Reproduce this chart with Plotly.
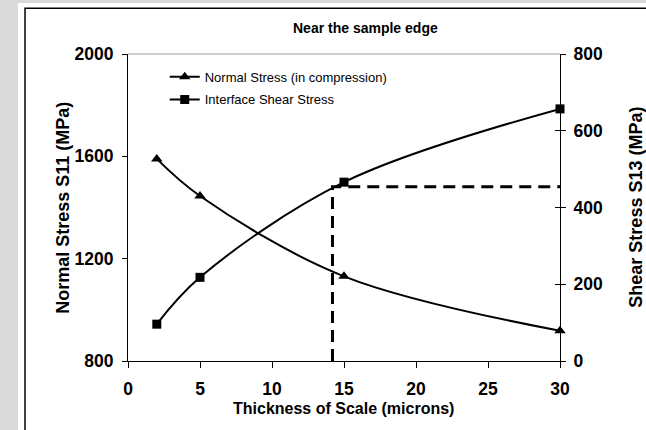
import plotly.graph_objects as go

# Scale thickness (microns) at which the stresses were computed
thickness = [2, 5, 15, 30]
# Normal stress S11 in compression (MPa), left axis
normal_stress = [1590, 1445, 1131, 918]
# Interface shear stress S13 (MPa), right axis
shear_stress = [96, 218, 466, 657]

guide_x = [14.2, 14.2, 30]
guide_y = [0, 454, 454]

x_ticks = [0, 5, 10, 15, 20, 25, 30]
left_ticks = [800, 1200, 1600, 2000]
right_ticks = [0, 200, 400, 600, 800]

FONT = "Liberation Sans, Arial, sans-serif"

fig = go.Figure()

fig.add_trace(go.Scatter(
    x=thickness, y=normal_stress, name="Normal Stress (in compression)",
    mode="lines+markers", line=dict(color="black", width=2, shape="spline"),
    marker=dict(symbol="triangle-up", size=10, color="black"),
    cliponaxis=False, legend="legend",
))
fig.add_trace(go.Scatter(
    x=thickness, y=shear_stress, name="Interface Shear Stress",
    mode="lines+markers", line=dict(color="black", width=2, shape="spline"),
    marker=dict(symbol="square", size=9, color="black"),
    cliponaxis=False, yaxis="y2", legend="legend2",
))
fig.add_trace(go.Scatter(
    x=guide_x, y=guide_y, mode="lines", showlegend=False,
    line=dict(color="black", width=3, dash="12px,7px"),
    cliponaxis=False, yaxis="y2",
))
# empty trace so the inner tick marks of the right axis get drawn
fig.add_trace(go.Scatter(x=[], y=[], yaxis="y3", showlegend=False))

tick_font = dict(family=FONT, size=17.5, color="black", weight="bold")

fig.update_layout(
    width=646, height=430,
    margin=dict(l=128, r=86, t=54, b=69),
    paper_bgcolor="#dadada",
    plot_bgcolor="rgba(0,0,0,0)",
    font=dict(family=FONT, color="black"),
    xaxis=dict(
        range=[0, 30], tickvals=x_ticks, showgrid=False, zeroline=False,
        showline=True, linecolor="black", linewidth=1,
        ticks="outside", ticklen=6, tickcolor="black",
        tickfont=tick_font, ticklabelstandoff=6,
    ),
    yaxis=dict(
        range=[800, 2000], tickvals=left_ticks, showgrid=False, zeroline=False,
        showline=True, linecolor="black", linewidth=1,
        ticks="outside", ticklen=5, tickcolor="black",
        tickfont=tick_font, ticklabelstandoff=5,
    ),
    yaxis2=dict(
        range=[0, 800], tickvals=right_ticks, overlaying="y", side="right",
        showgrid=False, zeroline=False,
        showline=True, linecolor="black", linewidth=1,
        ticks="outside", ticklen=5, tickcolor="black",
        tickfont=tick_font, ticklabelstandoff=4,
    ),
    yaxis3=dict(
        range=[0, 800], tickvals=right_ticks, overlaying="y", side="right",
        showgrid=False, zeroline=False, showline=False,
        ticks="inside", ticklen=5, tickcolor="black", showticklabels=False,
    ),
    legend=dict(
        x=0.085, y=0.926, xanchor="left", yanchor="middle",
        bgcolor="rgba(0,0,0,0)", borderwidth=0,
        font=dict(family=FONT, size=13, color="black"),
    ),
    legend2=dict(
        x=0.085, y=0.852, xanchor="left", yanchor="middle",
        bgcolor="rgba(0,0,0,0)", borderwidth=0,
        font=dict(family=FONT, size=13, color="black"),
    ),
    showlegend=True,
    shapes=[
        # white page behind the chart
        dict(type="rect", xref="paper", yref="paper", layer="below",
             x0=-0.2546, x1=1.5, y0=-0.5, y1=1.166,
             fillcolor="white", line=dict(width=0)),
        # black frame around the chart
        dict(type="rect", xref="paper", yref="paper", layer="below",
             x0=-0.2384, x1=1.5, y0=-0.5, y1=1.149,
             fillcolor="rgba(0,0,0,0)", line=dict(color="black", width=1.5)),
        # grey top edge of the plot area
        dict(type="line", xref="paper", yref="paper", layer="below",
             x0=0, x1=1, y0=1, y1=1, line=dict(color="#9a9a9a", width=1)),
    ],
    annotations=[
        dict(text="Near the sample edge", xref="paper", yref="paper",
             x=0.549, y=1.085, showarrow=False, xanchor="center", yanchor="middle",
             font=dict(family=FONT, size=14, color="black", weight="bold")),
        dict(text="Thickness of Scale (microns)", xref="paper", yref="paper",
             x=0.499, y=-0.156, showarrow=False, xanchor="center", yanchor="middle",
             font=dict(family=FONT, size=16, color="black", weight="bold")),
        dict(text="Normal Stress S11 (MPa)", xref="paper", yref="paper",
             x=-0.152, y=0.5, showarrow=False, textangle=-90,
             xanchor="center", yanchor="middle",
             font=dict(family=FONT, size=18, color="black", weight="bold")),
        dict(text="Shear Stress S13 (MPa)", xref="paper", yref="paper",
             x=1.174, y=0.5, showarrow=False, textangle=-90,
             xanchor="center", yanchor="middle",
             font=dict(family=FONT, size=18, color="black", weight="bold")),
    ],
)

fig.write_html("out.html")
